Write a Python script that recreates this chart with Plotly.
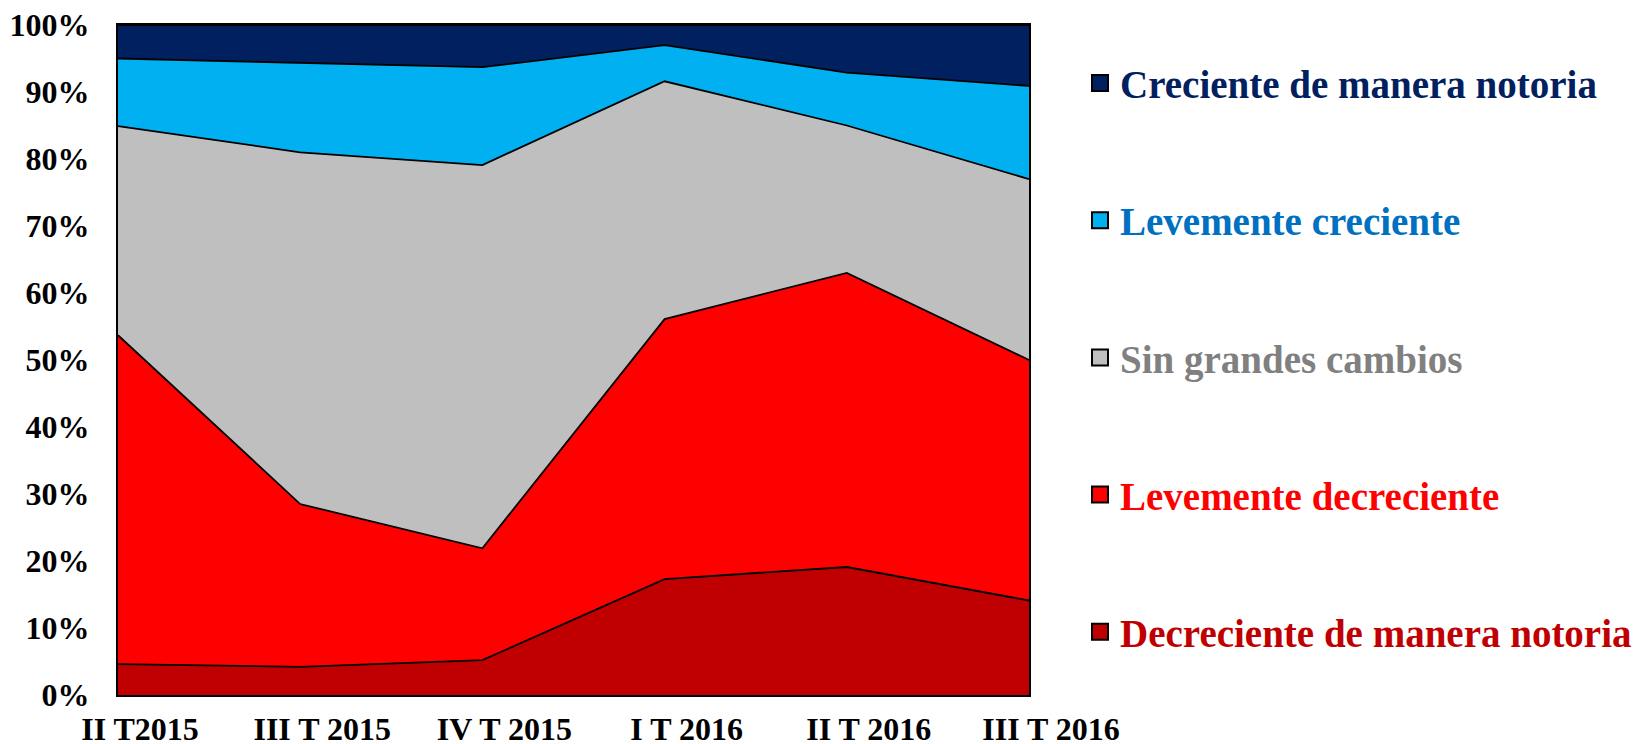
import plotly.graph_objects as go

categories = ["II T2015", "III T 2015", "IV T 2015", "I T 2016", "II T 2016", "III T 2016"]

decreciente_notoria = [4.6, 4.2, 5.2, 17.3, 19.1, 14.1]
levemente_decreciente = [49.1, 24.3, 16.7, 38.8, 43.9, 35.9]
sin_grandes_cambios = [31.2, 52.5, 57.2, 35.5, 22.0, 27.0]
levemente_creciente = [10.1, 13.3, 14.6, 5.4, 7.9, 13.9]
creciente_notoria = [5.0, 5.7, 6.3, 3.0, 7.1, 9.1]

y_ticks = [0, 10, 20, 30, 40, 50, 60, 70, 80, 90, 100]
y_tick_labels = ["0%", "10%", "20%", "30%", "40%", "50%", "60%", "70%", "80%", "90%", "100%"]

series = [
    ("Decreciente de manera notoria", decreciente_notoria, "#C00000", "#C00000"),
    ("Levemente decreciente", levemente_decreciente, "#FF0000", "#FF0000"),
    ("Sin grandes cambios", sin_grandes_cambios, "#BFBFBF", "#808080"),
    ("Levemente creciente", levemente_creciente, "#00B0F0", "#0070C0"),
    ("Creciente de manera notoria", creciente_notoria, "#002060", "#002060"),
]

FONT = "Times New Roman, Liberation Serif, serif"

fig = go.Figure()
for name, vals, fill, _ in series:
    fig.add_trace(go.Scatter(
        x=categories, y=vals, name=name, mode="lines",
        stackgroup="one", fillcolor=fill,
        line=dict(color="black", width=1.8),
        showlegend=False, hoverinfo="x+y+name",
    ))

# legend entries (top to bottom)
for name, vals, fill, txt in reversed(series):
    fig.add_trace(go.Scatter(
        x=[None], y=[None], mode="markers",
        name=f"<span style='color:{txt}'>{name}</span>",
        marker=dict(symbol="square", size=16, color=fill,
                    line=dict(color="black", width=2)),
        legendgroup=name, showlegend=True,
    ))

fig.update_layout(
    width=1648, height=744,
    margin=dict(l=118, r=618, t=25, b=49),
    paper_bgcolor="white", plot_bgcolor="white",
    font=dict(family=FONT, size=32, color="black", weight="bold"),
    legend=dict(
        x=(1080 - 118) / (1030 - 118), y=0.961, xanchor="left", yanchor="top",
        font=dict(family=FONT, size=39, weight="bold"),
        tracegroupgap=83.5, itemsizing="trace",
        bgcolor="rgba(0,0,0,0)", borderwidth=0,
    ),
    xaxis=dict(
        type="category", range=[0, 5], automargin=False,
        showgrid=False, zeroline=False,
        showline=True, linecolor="black", linewidth=2, mirror=True,
        ticks="outside", ticklen=5, tickcolor="rgba(0,0,0,0)",
        ticklabelshift=22,
        tickfont=dict(family=FONT, size=32, weight="bold"),
    ),
    yaxis=dict(
        range=[0, 100], tickvals=y_ticks, ticktext=y_tick_labels,
        automargin=False,
        showgrid=False, zeroline=False,
        showline=True, linecolor="black", linewidth=2, mirror=True,
        ticks="outside", ticklen=20, tickcolor="rgba(0,0,0,0)",
        tickfont=dict(family=FONT, size=32, weight="bold"),
    ),
)

fig.write_html("out.html", config={"displayModeBar": False},
               post_script="document.body.style.margin='0px';")
